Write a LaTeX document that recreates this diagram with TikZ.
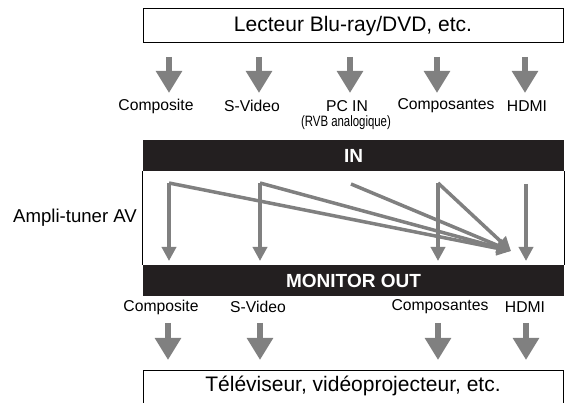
\documentclass[tikz,border=0pt]{standalone}
\usepackage{fontspec}
\setmainfont{Liberation Sans}
\usetikzlibrary{arrows.meta}
\definecolor{barblack}{RGB}{35,31,32}
\definecolor{arrgray}{RGB}{128,128,128}
\tikzset{
  bigarrow/.style={draw=arrgray, line width=6pt, -{Triangle[width=25pt,length=22pt]}},
  thinarrow/.style={draw=arrgray, line width=3.5pt, line cap=butt, -{Triangle[width=14pt,length=14pt]}},
  lbl/.style={font=\fontsize{15.7}{18}\selectfont, inner sep=0pt, anchor=center},
  bigtext/.style={font=\fontsize{21}{24}\selectfont},
  bar/.style={fill=barblack, text=white, minimum width=421pt, minimum height=31pt, inner sep=0pt, font=\bfseries\fontsize{19}{22}\selectfont},
}
\begin{document}
\begin{tikzpicture}[x=1pt,y=-1pt]
\useasboundingbox (0,0) rectangle (565,403);
\clip (0,0) rectangle (565,403);
% source box
\node[draw, line width=1pt, minimum width=420pt, minimum height=34pt, inner sep=0pt, bigtext] (src) at (353,26) {Lecteur Blu-ray/DVD, etc.};
% top arrows
\foreach \n/\x in {1/169,2/259,3/350,4/437,5/525}{
  \coordinate (ts\n) at (\x,57);
  \coordinate (te\n) at (\x,93);
  \draw[bigarrow] (ts\n) -- (te\n);
}
% input labels
\node[lbl] (inA) at (156,106) {Composite};
\node[lbl] (inB) at (252,106) {S-Video};
\node[lbl] (inC) at (347,106) {PC IN};
\node[inner sep=0pt] (inCsub) at (346,123) {\scalebox{0.76}[1]{\fontsize{15}{17}\selectfont (RVB analogique)}};
\node[lbl] (inD) at (446,106) {Composantes};
\node[lbl] (inE) at (527,106) {HDMI};
% receiver
\node[bar] (inbar) at (353.5,155.5) {IN};
\node[bar] (outbar) at (353.5,280.5) {MONITOR OUT};
\draw[line width=1pt] (inbar.south west) -- (outbar.north west);
\draw[line width=1pt] (inbar.south east) -- (outbar.north east);
\node[inner sep=0pt, font=\fontsize{18.6}{21}\selectfont] (amp) at (75,218) {Ampli-tuner AV};
% inner routing
\coordinate (c1) at (169,183);
\coordinate (c2) at (260,183);
\coordinate (c3) at (351,184);
\coordinate (c4) at (438,183);
\coordinate (c5) at (526,184);
\coordinate (cv) at (511,251);
\foreach \n/\x in {1/169,2/260,4/438,5/526}{
  \coordinate (v\n) at (\x,261);
}
\draw[thinarrow] (c1) -- (v1);
\draw[thinarrow] (c2) -- (v2);
\draw[thinarrow] (c4) -- (v4);
\draw[thinarrow] (c5) -- (v5);
\draw[thinarrow] (c1) -- (cv);
\draw[thinarrow] (c2) -- (cv);
\draw[thinarrow] (c3) -- (cv);
\draw[thinarrow] (c4) -- (cv);
% output labels
\node[lbl] (outA) at (161,307) {Composite};
\node[lbl] (outB) at (258,307) {S-Video};
\node[lbl] (outD) at (440,307) {Composantes};
\node[lbl] (outE) at (525,307) {HDMI};
% bottom arrows
\foreach \n/\x in {1/168,2/260,4/438,5/526}{
  \coordinate (bs\n) at (\x,323);
  \coordinate (be\n) at (\x,360);
  \draw[bigarrow] (bs\n) -- (be\n);
}
% destination box (cropped at bottom)
\draw[line width=1pt] (143,410) |- (563,370) -- (563,410);
\node[inner sep=0pt, bigtext] (dst) at (353,386) {Téléviseur, vidéoprojecteur, etc.};
\end{tikzpicture}
\end{document}
